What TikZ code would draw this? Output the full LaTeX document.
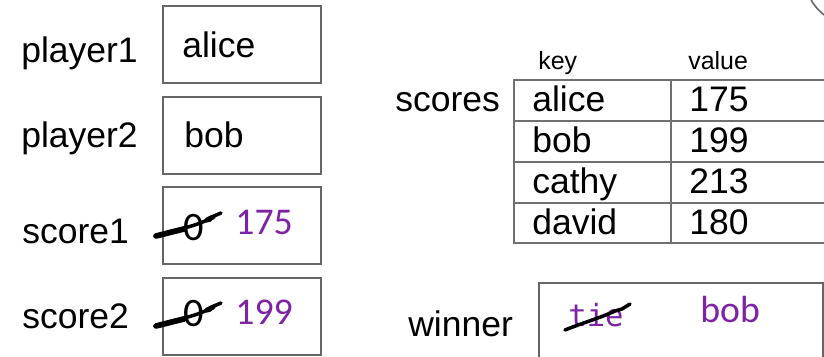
\documentclass[tikz,border=0pt]{standalone}
\usepackage{fontspec}
\setmainfont{Liberation Sans}
\newfontfamily\calfont{Carlito}
\setmonofont{DejaVu Sans Mono}
\definecolor{boxGray}{HTML}{666666}
\definecolor{tableGray}{HTML}{707070}
\definecolor{valPurple}{HTML}{7E22A6}
\begin{document}
\begin{tikzpicture}[
  x=0.02cm, y=-0.02cm,
  font=\fontsize{20.2}{22}\selectfont,
  lbl/.style={anchor=base west, inner sep=0pt},
  varbox/.style={draw=boxGray, line width=1.1pt, minimum width=3.16cm, minimum height=1.54cm, inner sep=0pt},
  tbl/.style={draw=tableGray, line width=1.1pt, inner sep=0pt},
  newval/.style={lbl, text=valPurple, font=\calfont\fontsize{21.5}{24}\selectfont},
  oldval/.style={lbl, font=\calfont\fontsize{23}{26}\selectfont},
  scribble/.style={line width=2pt, line cap=round, line join=round},
  grid/.style={draw=tableGray, line width=1.1pt}
]
\useasboundingbox (0,0) rectangle (824,357);
\clip (0,0) rectangle (824,357);

% variables on the left
\node[varbox] (p1box) at (242,44.5) {};
\node[varbox] (p2box) at (242,135.5) {};
\node[varbox] (s1box) at (242,225.5) {};
\node[varbox] (s2box) at (242,316.5) {};
\node[lbl] (p1name) at (21,63) {player1};
\node[lbl] (p2name) at (21,148) {player2};
\node[lbl] (s1name) at (22,244) {score1};
\node[lbl] (s2name) at (22,329) {score2};
\node[lbl] (p1val) at (182,58) {alice};
\node[lbl] (p2val) at (184,148) {bob};

% old zeros, struck out, and new scores
\node[oldval] (s1old) at (183,241) {0};
\node[oldval] (s2old) at (183,327) {0};
\foreach \dy in {0,90} {
  \draw[scribble, shift={(0,\dy)}] (155,236) .. controls (172,230) and (190,228) .. (205,221)
    -- (210,220) -- (214,216) -- (221,213);
  \draw[scribble, line width=3.2pt, shift={(0,\dy)}] (156,236) -- (184,229);
  \draw[scribble, line width=2.8pt, shift={(0,\dy)}] (207,220) -- (213,217);
}
\node[newval] (s1new) at (235,235) {175};
\node[newval] (s2new) at (235,325) {199};

% the scores dictionary
\node[tbl, minimum width=6.92cm, minimum height=3.26cm] (scores) at (687,161.5) {};
\foreach \y in {121,162,203}
  \draw[grid] (514,\y) -- (860,\y);
\draw[grid] (671,80) -- (671,243);
\node[lbl] (scname) at (395,112) {scores};
\node[lbl, font=\fontsize{14.2}{16}\selectfont] (keyhead) at (538,70) {key};
\node[lbl, font=\fontsize{14.2}{16}\selectfont] (valhead) at (688,70) {value};
\foreach \k/\v [count=\i] in {alice/175, bob/199, cathy/213, david/180} {
  \node[lbl] (key\i) at (532,71+41*\i) {\k};
  \node[lbl, anchor=base] (val\i) at (719,71+41*\i) {\v};
}

% winner
\node[tbl, draw=boxGray, minimum width=5.68cm, minimum height=1.94cm] (wbox) at (681,331.5) {};
\node[lbl] (wname) at (408,337) {winner};
\node[lbl, text=valPurple, font=\ttfamily\fontsize{17.4}{20}\selectfont] (wold) at (568,327) {tie};
\draw[scribble] (565,330) .. controls (585,322) and (600,318) .. (615,311) -- (622,309) -- (630,304);
\node[newval] (wnew) at (700,323) {bob};

% edge of a shape in the corner
\node[circle, draw=boxGray, line width=0.9pt, minimum size=2.02cm] (corner) at (855,-25) {};
\end{tikzpicture}
\end{document}
